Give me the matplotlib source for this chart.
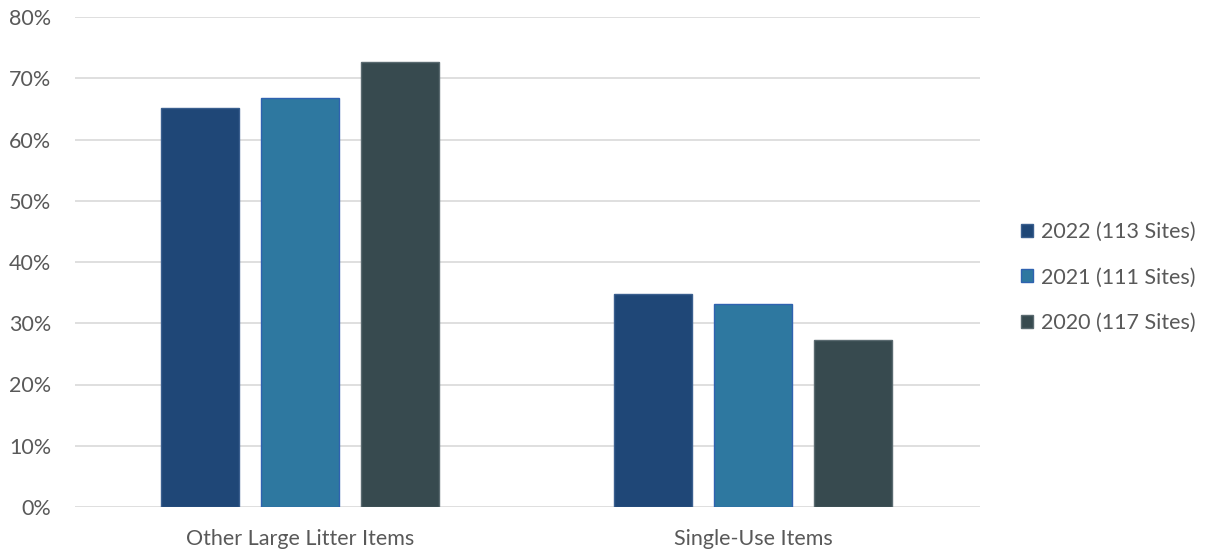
import matplotlib
matplotlib.use("Agg")
import matplotlib.pyplot as plt
from matplotlib.ticker import PercentFormatter
from matplotlib.patches import Patch
import numpy as np

categories = ["Other Large Litter Items", "Single-Use Items"]
series_names = ["2022 (113 Sites)", "2021 (111 Sites)", "2020 (117 Sites)"]
values_2022 = [65.2, 34.8]
values_2021 = [66.8, 33.2]
values_2020 = [72.7, 27.3]
yticks = [0, 10, 20, 30, 40, 50, 60, 70, 80]

colors = ["#1f4777", "#2e78a0", "#374a4f"]
edges = ["#3a5f8f", "#2f62b0", "#5a6a70"]

plt.rcParams['font.family'] = ['Lato', 'DejaVu Sans']

fig = plt.figure(figsize=(12.09, 5.54), dpi=100)
ax = fig.add_axes([75/1209, 1-507/554, 905/1209, (507-17)/554])

x = np.arange(len(categories))
width = 0.172
step = 0.221
for i, (vals, name) in enumerate(zip([values_2022, values_2021, values_2020], series_names)):
    ax.bar(x + (i-1)*step, vals, width, color=colors[i], edgecolor=edges[i], linewidth=1, label=name, zorder=3)

ax.set_xlim(-0.497, 1.501)
ax.set_ylim(0, 80)
ax.set_yticks(yticks)
ax.yaxis.set_major_formatter(PercentFormatter(decimals=0))
ax.set_xticks(x)
ax.set_xticklabels(categories)
ax.grid(axis='y', color='#d9d9d9', linewidth=1.2, zorder=0)
for s in ax.spines.values():
    s.set_visible(False)
ax.tick_params(axis='both', length=0, labelsize=15.5, labelcolor='#595959')
ax.tick_params(axis='y', pad=17)
ax.tick_params(axis='x', pad=16)

handles = [Patch(facecolor=colors[i], edgecolor=edges[i]) for i in range(3)]
fig.legend(handles, series_names, loc='center left', bbox_to_anchor=(1002/1209, 1-277.5/554),
           frameon=False, fontsize=15.5, labelcolor='#595959', handlelength=0.55, handleheight=0.55,
           handletextpad=0.37, labelspacing=1.2)

fig.savefig("out.png", dpi=100)
